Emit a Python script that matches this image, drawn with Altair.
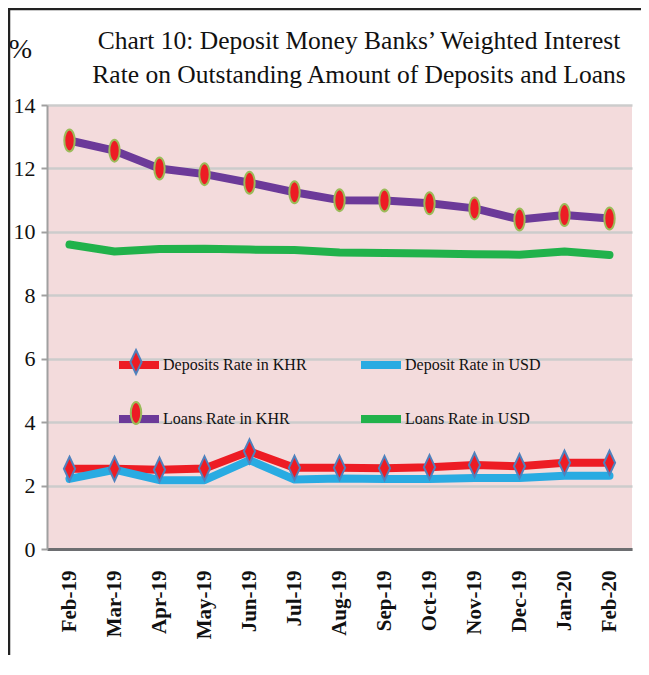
import altair as alt
import pandas as pd

months = ["Feb-19", "Mar-19", "Apr-19", "May-19", "Jun-19", "Jul-19", "Aug-19",
          "Sep-19", "Oct-19", "Nov-19", "Dec-19", "Jan-20", "Feb-20"]
series_names = ["Deposits Rate in KHR", "Deposit Rate in USD",
                "Loans Rate in KHR", "Loans Rate in USD"]
dep_khr = [2.53, 2.53, 2.50, 2.54, 3.08, 2.56, 2.56, 2.55, 2.58, 2.65, 2.61, 2.72, 2.72]
dep_usd = [2.21, 2.50, 2.17, 2.17, 2.80, 2.19, 2.22, 2.21, 2.21, 2.24, 2.24, 2.31, 2.31]
loan_khr = [12.88, 12.56, 12.00, 11.82, 11.55, 11.25, 11.00, 10.99, 10.90, 10.74, 10.39, 10.53, 10.42]
loan_usd = [9.60, 9.38, 9.46, 9.47, 9.44, 9.43, 9.35, 9.33, 9.32, 9.29, 9.28, 9.38, 9.27]
y_ticks = [0, 2, 4, 6, 8, 10, 12, 14]
title_lines = ["Chart 10: Deposit Money Banks’ Weighted Interest",
               "Rate on Outstanding Amount of Deposits and Loans"]

marker_names = [n + "*" for n in series_names]

rows = []
for name, mname, vals in zip(series_names, marker_names, [dep_khr, dep_usd, loan_khr, loan_usd]):
    for i, (m, v) in enumerate(zip(months, vals)):
        rows.append({"month": m, "idx": i, "series": name, "series_m": mname, "rate": v})
df = pd.DataFrame(rows)

line_colors = ["#ED1C24", "#29ABE2", "#6C3A99", "#21B24B"]
DIAMOND = "M0,-0.6L0.28,0L0,0.6L-0.28,0Z"
ELLIPSE = "M0,-0.55A0.26,0.55,0,1,1,0,0.55A0.26,0.55,0,1,1,0,-0.55Z"
NONE = "M0,0"

SERIF = "Liberation Serif"

x = alt.X("month:N", sort=months,
          scale=alt.Scale(type="point", padding=0.5),
          axis=alt.Axis(title=None, labelAngle=-90, labelFont=SERIF, labelFontWeight="bold",
                        labelFontSize=21, labelColor="#111111", labelPadding=21,
                        ticks=False, domainColor="#6D6E71", domainWidth=3, grid=False))
y = alt.Y("rate:Q", scale=alt.Scale(domain=[0, 14], nice=False),
          axis=alt.Axis(values=y_ticks, title="%", titleAngle=0, titleX=-27, titleY=-48,
                        titleFont=SERIF, titleFontSize=28, titleFontWeight="normal",
                        titleAlign="center", titleBaseline="alphabetic", titleColor="#111111",
                        labelFont=SERIF, labelFontSize=22, labelColor="#111111", labelPadding=6,
                        domainColor="#A0A0A0", domainWidth=2, tickColor="#A0A0A0",
                        tickWidth=2, tickSize=6, gridColor="#CCCCCC", gridWidth=2.5))

legend_common = dict(orient="none", legendX=68, legendY=236, columns=2, direction="horizontal",
                     rowPadding=14, labelFont=SERIF, labelFontSize=16, labelColor="#111111",
                     symbolSize=1600, title=None)

lines = alt.Chart(df).mark_line(strokeWidth=8, strokeCap="round", strokeJoin="round").encode(
    x=x, y=y,
    color=alt.Color("series:N", scale=alt.Scale(domain=series_names, range=line_colors),
                    legend=alt.Legend(symbolType="stroke", symbolStrokeWidth=8,
                                      columnPadding=38, labelOffset=0, **legend_common)),
    order=alt.Order("idx:Q"),
)

marker_legend = alt.Legend(symbolStrokeWidth=2, labelExpr="''", columnPadding=176,
                           labelOffset=4, **legend_common)
points = alt.Chart(df).mark_point(size=1600, strokeWidth=2, opacity=1, fillOpacity=1).encode(
    x=x, y=y,
    shape=alt.Shape("series_m:N", scale=alt.Scale(domain=marker_names,
                                                  range=[DIAMOND, NONE, ELLIPSE, NONE]),
                    legend=marker_legend),
    fill=alt.Fill("series_m:N", scale=alt.Scale(domain=marker_names,
                                                range=["#ED1C24", "transparent", "#ED1C24", "transparent"]),
                  legend=marker_legend),
    stroke=alt.Stroke("series_m:N", scale=alt.Scale(domain=marker_names,
                                                    range=["#4F81BD", "transparent", "#9BBB59", "transparent"]),
                      legend=marker_legend),
)

one = pd.DataFrame({"k": [0]})
title = alt.Chart(one).mark_text(text=title_lines, font=SERIF, fontSize=25.5, color="#111111",
                                 align="center", baseline="alphabetic", lineHeight=34).encode(
    x=alt.value(312), y=alt.value(-56))

frame_left = alt.Chart(one).mark_rule(color="#222222", strokeWidth=2.5).encode(
    x=alt.value(-38), y=alt.value(-96), y2=alt.value(550))
frame_top = alt.Chart(one).mark_rule(color="#222222", strokeWidth=2.5).encode(
    x=alt.value(-39), x2=alt.value(594), y=alt.value(-96))

chart = alt.layer(lines, points, title, frame_left, frame_top).properties(
    width=585, height=444,
    autosize=alt.AutoSizeParams(type="none"),
    padding={"left": 39, "top": 97, "right": 9, "bottom": 110},
).configure(background="white").configure_view(fill="#F3DBDC", stroke=None)

chart.save("out.html", embed_options={"renderer": "svg", "actions": False})
